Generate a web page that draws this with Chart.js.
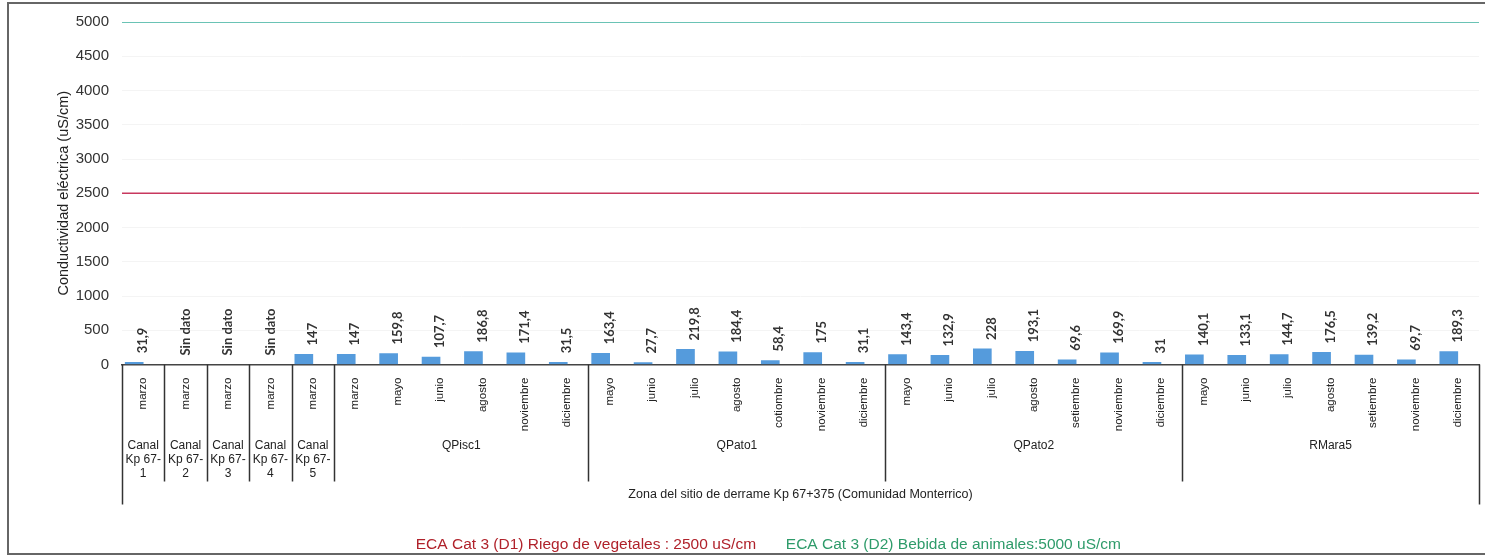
<!DOCTYPE html>
<html>
<head>
<meta charset="utf-8">
<script src="https://cdn.jsdelivr.net/npm/chart.js@4.4.0/dist/chart.umd.min.js"></script>
<style>
  html, body { margin: 0; padding: 0; background: #fff; }
  #wrap { position: relative; width: 1485px; height: 557px; }
</style>
</head>
<body>
<div id="wrap"><canvas id="grafico"></canvas></div>
<script>
// meses de muestreo (eje X, primer nivel)
const meses = [
  'marzo', 'marzo', 'marzo', 'marzo', 'marzo',
  'marzo', 'mayo', 'junio', 'agosto', 'noviembre', 'diciembre',
  'mayo', 'junio', 'julio', 'agosto', 'cotiombre', 'noviembre', 'diciembre',
  'mayo', 'junio', 'julio', 'agosto', 'setiembre', 'noviembre', 'diciembre',
  'mayo', 'junio', 'julio', 'agosto', 'setiembre', 'noviembre', 'diciembre'
];
// estaciones (segundo nivel) y cuantas columnas abarca cada una
const grupos = ['Canal\nKp 67-\n1', 'Canal\nKp 67-\n2', 'Canal\nKp 67-\n3', 'Canal\nKp 67-\n4', 'Canal\nKp 67-\n5',
  'QPisc1', 'QPato1', 'QPato2', 'RMara5'];
const tamanoGrupos = [1, 1, 1, 1, 1, 6, 7, 7, 7];
const zona = 'Zona del sitio de derrame Kp 67+375 (Comunidad Monterrico)';

// conductividad electrica (uS/cm), null = Sin dato
const conductividad = [
  31.9, null, null, null, 147,
  147, 159.8, 107.7, 186.8, 171.4, 31.5,
  163.4, 27.7, 219.8, 184.4, 58.4, 175, 31.1,
  143.4, 132.9, 228, 193.1, 69.6, 169.9, 31,
  140.1, 133.1, 144.7, 176.5, 139.2, 69.7, 189.3
];

const limiteRiego = 2500;   // ECA Cat 3 (D1)
const limiteBebida = 5000;  // ECA Cat 3 (D2)

// etiquetas de valor verticales sobre cada barra
const etiquetas = {
  id: 'etiquetas',
  afterDatasetsDraw(chart) {
    const ctx = chart.ctx;
    const x = chart.scales.x, y = chart.scales.y;
    ctx.save();
    ctx.font = 'bold 13px Lato';
    ctx.fillStyle = '#333';
    ctx.textAlign = 'left';
    ctx.textBaseline = 'middle';
    conductividad.forEach((v, i) => {
      const texto = v === null ? 'Sin dato' : String(v).replace('.', ',');
      const base = y.getPixelForValue(v === null ? 0 : v);
      ctx.save();
      ctx.translate(x.getPixelForValue(i), base - 9);
      ctx.rotate(-Math.PI / 2);
      ctx.fillText(texto, 0, 0);
      ctx.restore();
    });
    ctx.restore();
  }
};

// eje X agrupado + marco
const ejeGrupos = {
  id: 'ejeGrupos',
  afterLayout(chart) {
    // la leyenda del original esta algo corrida a la derecha
    chart.legend.left += 17;
    chart.legend.right += 17;
  },
  afterDraw(chart) {
    const { ctx, chartArea, scales: { x } } = chart;
    const ancho = (x.right - x.left) / meses.length;
    const y0 = chartArea.bottom;
    ctx.save();
    ctx.strokeStyle = '#333';
    ctx.lineWidth = 1.5;
    const bordes = [0];
    let acc = 0;
    tamanoGrupos.forEach(n => { acc += n; bordes.push(acc); });
    bordes.forEach((b, k) => {
      const px = Math.round(x.left + b * ancho) + 0.5;
      const fin = (k === 0 || k === bordes.length - 1) ? y0 + 140 : y0 + 117;
      ctx.beginPath();
      ctx.moveTo(px, y0);
      ctx.lineTo(px, fin);
      ctx.stroke();
    });
    ctx.fillStyle = '#222';
    ctx.font = '12px "Liberation Sans"';
    ctx.textAlign = 'center';
    ctx.textBaseline = 'middle';
    grupos.forEach((g, k) => {
      const cx = x.left + (bordes[k] + bordes[k + 1]) / 2 * ancho;
      g.split('\n').forEach((linea, j) => ctx.fillText(linea, cx, y0 + 81 + j * 14));
    });
    ctx.font = '12.5px "Liberation Sans"';
    ctx.fillText(zona, (x.left + x.right) / 2, y0 + 130);
    // marco exterior
    ctx.strokeStyle = '#666';
    ctx.lineWidth = 2;
    ctx.strokeRect(8, 3, 1500, 551);
    ctx.restore();
  }
};

new Chart(document.getElementById('grafico'), {
  data: {
    labels: meses,
    datasets: [{
      type: 'bar',
      label: 'Conductividad',
      data: conductividad,
      backgroundColor: '#559bdc',
      barThickness: 18,
      xAxisID: 'x'
    }, {
      type: 'line',
      label: 'ECA Cat 3 (D1) Riego de vegetales : 2500 uS/cm',
      colorTexto: '#b0222b',
      data: [{ x: 0, y: limiteRiego }, { x: 1, y: limiteRiego }],
      borderColor: '#c8385e',
      borderWidth: 1.5,
      pointRadius: 0,
      xAxisID: 'x2'
    }, {
      type: 'line',
      label: 'ECA Cat 3 (D2) Bebida de animales:5000 uS/cm',
      colorTexto: '#2e9b6a',
      data: [{ x: 0, y: limiteBebida }, { x: 1, y: limiteBebida }],
      borderColor: '#3db3a0',
      borderWidth: 1.5,
      pointRadius: 0,
      xAxisID: 'x2'
    }]
  },
  options: {
    responsive: true,
    maintainAspectRatio: false,
    animation: false,
    layout: { padding: { top: 21, right: 6, left: 0, bottom: -5 } },
    plugins: {
      tooltip: { enabled: false },
      legend: {
        position: 'bottom',
        labels: {
          boxWidth: 16,
          boxHeight: 13,
          padding: 6,
          font: { size: 15.5, family: '"Liberation Sans"' },
          generateLabels(chart) {
            return chart.data.datasets.map((ds, i) => ({
              text: ds.label,
              fillStyle: 'rgba(0,0,0,0)',
              strokeStyle: 'rgba(0,0,0,0)',
              lineWidth: 0,
              fontColor: ds.colorTexto,
              datasetIndex: i,
              hidden: false
            })).filter(it => it.datasetIndex > 0);
          }
        }
      }
    },
    scales: {
      x: {
        type: 'category',
        grid: { display: false },
        border: { display: true, color: '#444', width: 1.5 },
        ticks: {
          autoSkip: false,
          minRotation: 90,
          maxRotation: 90,
          padding: 5,
          color: '#222',
          font: { size: 11.5, family: '"Liberation Sans"' }
        },
        afterFit(s) { s.height = 166; }
      },
      x2: { type: 'linear', min: 0, max: 1, display: false },
      y: {
        min: 0,
        max: 5000,
        grid: { color: '#f4f4f4', drawTicks: false },
        border: { display: false },
        ticks: {
          stepSize: 500,
          padding: 13,
          color: '#333',
          font: { size: 15, family: '"Liberation Sans"' },
          callback: v => String(v)
        },
        title: {
          display: true,
          text: 'Conductividad eléctrica (uS/cm)',
          color: '#222',
          font: { size: 14.5, family: '"Liberation Sans"' },
          padding: { top: 55, bottom: 0 }
        },
        afterFit(s) { s.width = 122; }
      }
    }
  },
  plugins: [etiquetas, ejeGrupos]
});
</script>
</body>
</html>
